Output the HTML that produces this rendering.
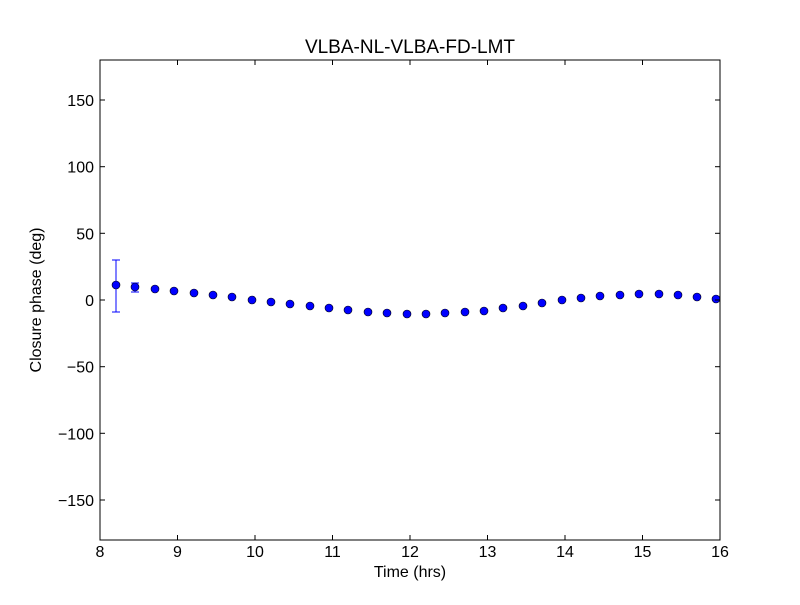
<!DOCTYPE html>
<html><head><style>body{margin:0;background:#fff}</style></head><body>
<svg width="800" height="600" xmlns="http://www.w3.org/2000/svg" font-family="Liberation Sans, DejaVu Sans, sans-serif">
<rect width="800" height="600" fill="#fff"/>
<text x="410" y="53" font-size="19" text-anchor="middle">VLBA-NL-VLBA-FD-LMT</text>
<g stroke="#00f" stroke-width="1">
<line x1="116" y1="260" x2="116" y2="312"/><line x1="112" y1="260" x2="120" y2="260"/><line x1="112" y1="312" x2="120" y2="312"/>
<line x1="135" y1="283" x2="135" y2="292"/><line x1="131" y1="283" x2="139" y2="283"/><line x1="131" y1="292" x2="139" y2="292"/>
</g>
<g fill="#00f" stroke="#000" stroke-width="0.6">
<circle cx="116" cy="285" r="4"/><circle cx="135" cy="287" r="4"/><circle cx="155" cy="289" r="4"/><circle cx="174" cy="291" r="4"/><circle cx="194" cy="293" r="4"/><circle cx="213" cy="295" r="4"/><circle cx="232" cy="297" r="4"/><circle cx="252" cy="300" r="4"/><circle cx="271" cy="302" r="4"/><circle cx="290" cy="304" r="4"/><circle cx="310" cy="306" r="4"/><circle cx="329" cy="308" r="4"/><circle cx="348" cy="310" r="4"/><circle cx="368" cy="312" r="4"/><circle cx="387" cy="313" r="4"/><circle cx="407" cy="314" r="4"/><circle cx="426" cy="314" r="4"/><circle cx="445" cy="313" r="4"/><circle cx="465" cy="312" r="4"/><circle cx="484" cy="311" r="4"/><circle cx="503" cy="308" r="4"/><circle cx="523" cy="306" r="4"/><circle cx="542" cy="303" r="4"/><circle cx="562" cy="300" r="4"/><circle cx="581" cy="298" r="4"/><circle cx="600" cy="296" r="4"/><circle cx="620" cy="295" r="4"/><circle cx="639" cy="294" r="4"/><circle cx="659" cy="294" r="4"/><circle cx="678" cy="295" r="4"/><circle cx="697" cy="297" r="4"/><circle cx="716" cy="299" r="4"/>
</g>
<rect x="100" y="60" width="620" height="480" fill="none" stroke="#000" stroke-width="1"/>
<g stroke="#000" stroke-width="1">
<line x1="177.5" y1="540" x2="177.5" y2="535"/><line x1="255" y1="540" x2="255" y2="535"/><line x1="332.5" y1="540" x2="332.5" y2="535"/><line x1="410" y1="540" x2="410" y2="535"/><line x1="487.5" y1="540" x2="487.5" y2="535"/><line x1="565" y1="540" x2="565" y2="535"/><line x1="642.5" y1="540" x2="642.5" y2="535"/>
<line x1="177.5" y1="60" x2="177.5" y2="65"/><line x1="255" y1="60" x2="255" y2="65"/><line x1="332.5" y1="60" x2="332.5" y2="65"/><line x1="410" y1="60" x2="410" y2="65"/><line x1="487.5" y1="60" x2="487.5" y2="65"/><line x1="565" y1="60" x2="565" y2="65"/><line x1="642.5" y1="60" x2="642.5" y2="65"/>
<line x1="100" y1="100" x2="105" y2="100"/><line x1="100" y1="166.7" x2="105" y2="166.7"/><line x1="100" y1="233.3" x2="105" y2="233.3"/><line x1="100" y1="300" x2="105" y2="300"/><line x1="100" y1="366.7" x2="105" y2="366.7"/><line x1="100" y1="433.3" x2="105" y2="433.3"/><line x1="100" y1="500" x2="105" y2="500"/>
<line x1="720" y1="100" x2="715" y2="100"/><line x1="720" y1="166.7" x2="715" y2="166.7"/><line x1="720" y1="233.3" x2="715" y2="233.3"/><line x1="720" y1="300" x2="715" y2="300"/><line x1="720" y1="366.7" x2="715" y2="366.7"/><line x1="720" y1="433.3" x2="715" y2="433.3"/><line x1="720" y1="500" x2="715" y2="500"/>
</g>
<g font-size="16" text-anchor="middle">
<text x="100" y="557">8</text><text x="177.5" y="557">9</text><text x="255" y="557">10</text><text x="332.5" y="557">11</text><text x="410" y="557">12</text><text x="487.5" y="557">13</text><text x="565" y="557">14</text><text x="642.5" y="557">15</text><text x="720" y="557">16</text>
</g>
<g font-size="16" text-anchor="end">
<text x="94" y="106">150</text><text x="94" y="172.7">100</text><text x="94" y="239.3">50</text><text x="94" y="306">0</text><text x="94" y="372.7">−50</text><text x="94" y="439.3">−100</text><text x="94" y="506">−150</text>
</g>
<text x="410" y="577" font-size="16" text-anchor="middle">Time (hrs)</text>
<text transform="translate(41,300) rotate(-90)" font-size="16" text-anchor="middle">Closure phase (deg)</text>
</svg>
</body></html>
